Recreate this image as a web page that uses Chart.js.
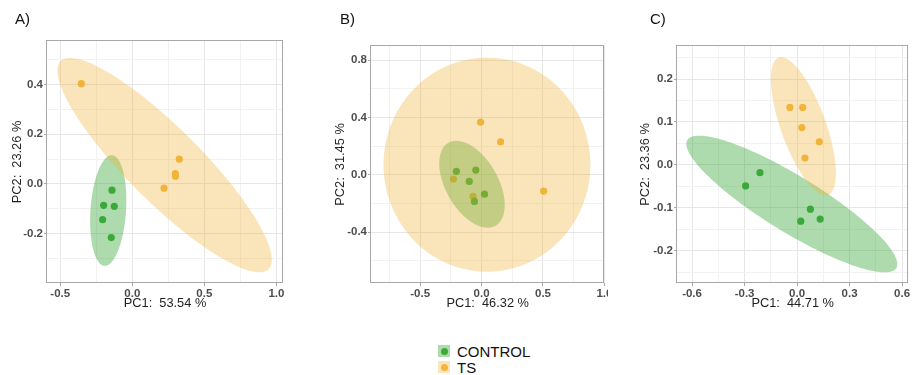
<!DOCTYPE html>
<html>
<head>
<meta charset="utf-8">
<script src="https://cdn.jsdelivr.net/npm/chart.js@4.4.1/dist/chart.umd.min.js"></script>
<style>
  html, body { margin: 0; padding: 0; background: #fff; }
  body { width: 912px; height: 375px; position: relative; overflow: hidden;
         font-family: "Liberation Sans", Arial, sans-serif; }
  canvas { position: absolute; top: 0; }
  .tag { position: absolute; top: 10.6px; font-size: 15px; line-height: 15px; color: #111; }
  .legend { position: absolute; left: 438px; top: 344px; }
  .row { display: flex; height: 16px; align-items: flex-start; }
  .key { width: 12px; height: 12px; margin-top: 1px; position: relative; }
  .key i { position: absolute; left: 2.5px; top: 2.5px; width: 7px; height: 7px; border-radius: 50%; }
  .row span { margin-left: 7px; font-size: 15px; line-height: 16px; color: #111; }
</style>
</head>
<body>
<canvas id="pcaA" width="300" height="320" style="left:0px"></canvas>
<canvas id="pcaB" width="308" height="320" style="left:300px"></canvas>
<canvas id="pcaC" width="300" height="320" style="left:612px"></canvas>
<div class="tag" style="left:15px">A)</div>
<div class="tag" style="left:340px">B)</div>
<div class="tag" style="left:650px">C)</div>
<div class="legend">
  <div class="row"><div class="key" id="keyControl"><i></i></div><span>CONTROL</span></div>
  <div class="row"><div class="key" id="keyTs"><i></i></div><span>TS</span></div>
</div>
<script>
// ---- PCA scores (PC1, PC2) per sample, by group ----
const scoresA_control_pc1 = [-0.141, -0.199, -0.125, -0.206, -0.146];
const scoresA_control_pc2 = [-0.025, -0.086, -0.090, -0.144, -0.216];
const scoresA_ts_pc1      = [-0.354, 0.326, 0.299, 0.299, 0.220];
const scoresA_ts_pc2      = [0.404, 0.100, 0.042, 0.031, -0.017];

const scoresB_control_pc1 = [-0.205, -0.047, -0.100, 0.024, -0.058];
const scoresB_control_pc2 = [0.024, 0.033, -0.046, -0.135, -0.186];
const scoresB_ts_pc1      = [-0.008, 0.155, 0.505, -0.229, -0.069];
const scoresB_ts_pc2      = [0.368, 0.230, -0.114, -0.030, -0.151];

const scoresC_control_pc1 = [-0.294, -0.212, 0.076, 0.132, 0.021];
const scoresC_control_pc2 = [-0.049, -0.018, -0.103, -0.126, -0.131];
const scoresC_ts_pc1      = [-0.041, 0.032, 0.027, 0.127, 0.045];
const scoresC_ts_pc2      = [0.134, 0.134, 0.087, 0.054, 0.016];

// ---- explained variance (%) of PC1 and PC2 ----
const varianceA = [53.54, 23.26];
const varianceB = [46.32, 31.45];
const varianceC = [44.71, 23.36];

// ---- group ellipses: centre (PC1, PC2), then two conjugate semi-axes ----
const ellipseA_control = [-0.167, -0.107, -0.026, -0.223, 0.123, -0.005];
const ellipseA_ts      = [0.224, 0.076, 0.722, -0.419, 0.181, 0.105];
const ellipseB_control = [-0.078, -0.066, 0.195, -0.288, 0.182, 0.096];
const ellipseB_ts      = [0.044, 0.071, 0.842, 0.000, 0.000, 0.748];
const ellipseC_control = [-0.030, -0.091, 0.597, -0.149, -0.083, -0.056];
const ellipseC_ts      = [0.036, 0.090, 0.141, -0.160, 0.121, 0.018];

// ---- axis limits and labelled breaks ----
const limitsA_pc1 = [-0.592, 1.046];  const limitsA_pc2 = [-0.399, 0.576];
const breaksA_pc1 = [-0.5, 0.0, 0.5, 1.0];
const breaksA_pc2 = [-0.2, 0.0, 0.2, 0.4];
const limitsB_pc1 = [-0.900, 1.000];  const limitsB_pc2 = [-0.756, 0.900];
const breaksB_pc1 = [-0.5, 0.0, 0.5, 1.0];
const breaksB_pc2 = [-0.4, 0.0, 0.4, 0.8];
const limitsC_pc1 = [-0.686, 0.636];  const limitsC_pc2 = [-0.275, 0.277];
const breaksC_pc1 = [-0.6, -0.3, 0.0, 0.3, 0.6];
const breaksC_pc2 = [-0.2, -0.1, 0.0, 0.1, 0.2];

const groups = ['CONTROL', 'TS'];

// ---- styling ----
const FONT = '"Liberation Sans", Arial, sans-serif';
const POINT_COLORS = ['#3caa37', '#f4b53f'];
const FILL_COLORS = ['rgba(60,170,60,0.42)', 'rgba(240,175,50,0.33)'];
const GRID_MAJOR = '#e6e6e6';
const GRID_MINOR = '#f2f2f2';
const FRAME = '#a8a8a8';

document.querySelector('#keyControl').style.background = FILL_COLORS[0];
document.querySelector('#keyTs').style.background = FILL_COLORS[1];
document.querySelector('#keyControl i').style.background = POINT_COLORS[0];
document.querySelector('#keyTs i').style.background = POINT_COLORS[1];

// major breaks plus the minor ones half-way between them
function gridValues(breaks, limits) {
  const step = breaks[1] - breaks[0];
  const out = [];
  for (let k = -2; k <= breaks.length * 2 + 2; k++) {
    const v = Math.round((breaks[0] + (k * step) / 2) * 1e6) / 1e6;
    if (v < limits[0] - 1e-9 || v > limits[1] + 1e-9) continue;
    const major = breaks.some(b => Math.abs(b - v) < 1e-9);
    out.push({ value: v, minor: !major });
  }
  return out;
}

const ellipsePlugin = {
  id: 'groupEllipses',
  afterDatasetsDraw(chart, args, opts) {
    const { ctx, chartArea: a, scales: { x, y } } = chart;
    ctx.save();
    ctx.beginPath();
    ctx.rect(a.left, a.top, a.right - a.left, a.bottom - a.top);
    ctx.clip();
    opts.shapes.forEach((p, gi) => {
      const [cx, cy, ux, uy, vx, vy] = p;
      ctx.beginPath();
      const n = 180;
      for (let i = 0; i <= n; i++) {
        const t = (i / n) * Math.PI * 2;
        const px = x.getPixelForValue(cx + ux * Math.cos(t) + vx * Math.sin(t));
        const py = y.getPixelForValue(cy + uy * Math.cos(t) + vy * Math.sin(t));
        if (i === 0) ctx.moveTo(px, py); else ctx.lineTo(px, py);
      }
      ctx.closePath();
      ctx.fillStyle = FILL_COLORS[gi];
      ctx.fill();
    });
    ctx.restore();
  }
};

const framePlugin = {
  id: 'panelFrame',
  afterDraw(chart) {
    const { ctx, chartArea: a } = chart;
    ctx.save();
    ctx.strokeStyle = FRAME;
    ctx.lineWidth = 1;
    const l = Math.round(a.left) - 0.5, t = Math.round(a.top) - 0.5;
    const r = Math.round(a.right) - 0.5, b = Math.round(a.bottom) - 0.5;
    ctx.strokeRect(l, t, r - l, b - t);
    ctx.restore();
  }
};

function axis(limits, breaks, title, size, titlePad) {
  return {
    type: 'linear',
    min: limits[0],
    max: limits[1],
    afterBuildTicks: s => { s.ticks = gridValues(breaks, limits); },
    afterFit: s => {
      if (s.isHorizontal()) { s.height = size; s.paddingLeft = 0; s.paddingRight = 0; }
      else { s.width = size; s.paddingTop = 0; s.paddingBottom = 0; }
    },
    border: { display: false },
    grid: {
      lineWidth: 1,
      color: c => (c.tick && c.tick.minor ? GRID_MINOR : GRID_MAJOR),
      tickColor: c => (c.tick && c.tick.minor ? 'rgba(0,0,0,0)' : FRAME),
      tickLength: 3,
      drawTicks: true
    },
    ticks: {
      autoSkip: false,
      maxRotation: 0,
      padding: 1,
      color: '#4d4d4d',
      font: { family: FONT, size: 11.5, weight: 'bold' },
      callback: (v, i, t) => (t[i] && t[i].minor ? '' : Number(v).toFixed(1))
    },
    title: {
      display: true,
      text: title,
      color: '#1f1f1f',
      font: { family: FONT, size: 12.8 },
      padding: titlePad
    }
  };
}

function panel(id, ctrlX, ctrlY, tsX, tsY, ellipses, variance,
               limX, brX, limY, brY, geom) {
  const pts = (xs, ys) => xs.map((v, i) => ({ x: v, y: ys[i] }));
  const series = [[ctrlX, ctrlY], [tsX, tsY]];
  return new Chart(document.getElementById(id), {
    type: 'scatter',
    data: {
      datasets: groups.map((g, gi) => ({
        label: g,
        data: pts(series[gi][0], series[gi][1]),
        backgroundColor: POINT_COLORS[gi],
        borderWidth: 0,
        pointRadius: 3.6,
        pointHoverRadius: 3.6
      }))
    },
    options: {
      responsive: false,
      animation: false,
      devicePixelRatio: 1,
      events: [],
      layout: { padding: { left: 0, top: geom.top, right: geom.right, bottom: 0 } },
      plugins: {
        legend: { display: false },
        tooltip: { enabled: false },
        groupEllipses: { shapes: ellipses }
      },
      scales: {
        x: axis(limX, brX, 'PC1:  ' + variance[0].toFixed(2) + ' %', 37, { top: 0, bottom: 9 }),
        y: axis(limY, brY, 'PC2:  ' + variance[1].toFixed(2) + ' %', geom.left, { top: geom.yTitle, bottom: 0 })
      }
    },
    plugins: [ellipsePlugin, framePlugin]
  });
}

panel('pcaA', scoresA_control_pc1, scoresA_control_pc2, scoresA_ts_pc1, scoresA_ts_pc2,
      [ellipseA_control, ellipseA_ts], varianceA,
      limitsA_pc1, breaksA_pc1, limitsA_pc2, breaksA_pc2,
      { left: 47, top: 41, right: 17, yTitle: 10 });

panel('pcaB', scoresB_control_pc1, scoresB_control_pc2, scoresB_ts_pc1, scoresB_ts_pc2,
      [ellipseB_control, ellipseB_ts], varianceB,
      limitsB_pc1, breaksB_pc1, limitsB_pc2, breaksB_pc2,
      { left: 71, top: 46, right: 2, yTitle: 33 });

panel('pcaC', scoresC_control_pc1, scoresC_control_pc2, scoresC_ts_pc1, scoresC_ts_pc2,
      [ellipseC_control, ellipseC_ts], varianceC,
      limitsC_pc1, breaksC_pc1, limitsC_pc2, breaksC_pc2,
      { left: 65, top: 46, right: 1, yTitle: 26 });
</script>
</body>
</html>
